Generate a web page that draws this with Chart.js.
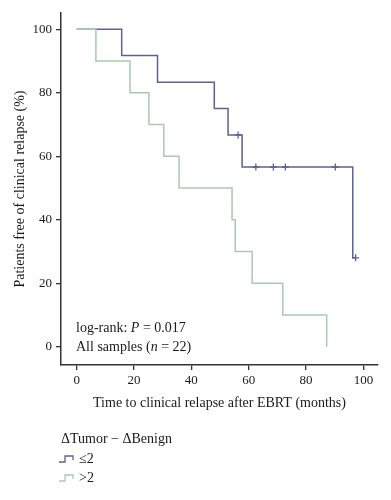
<!DOCTYPE html>
<html>
<head>
<meta charset="utf-8">
<script src="https://cdn.jsdelivr.net/npm/chart.js@4"></script>
<style>
  html, body { margin: 0; padding: 0; background: #fff; }
  #wrap { position: relative; width: 391px; height: 500px; }
  canvas { position: absolute; left: 0; top: 0; }
  .t { position: absolute; font-family: "Liberation Serif", "DejaVu Serif", serif; font-size: 14px; color: #1a1a1a; white-space: nowrap; line-height: 16px; }
  .leg svg { vertical-align: middle; margin-right: 3px; position: relative; top: -1px; }
</style>
</head>
<body>
<div id="wrap">
  <canvas id="c" width="391" height="500"></canvas>
  <div class="t" style="left:76px; top:320px;">log-rank: <i>P</i> = 0.017</div>
  <div class="t" style="left:76px; top:339px;">All samples (<i>n</i> = 22)</div>
  <div class="t" style="left:61px; top:431px;">ΔTumor − ΔBenign</div>
  <div class="t leg" style="left:58px; top:451px;"><svg width="18" height="10"><polyline points="1,8 7,8 7,2 15,2 15,6" fill="none" stroke="#5c6293" stroke-width="1.3"/></svg>≤2</div>
  <div class="t leg" style="left:58px; top:470px;"><svg width="18" height="10"><polyline points="1,8 7,8 7,2 15,2 15,6" fill="none" stroke="#a6cbae" stroke-width="1.3"/></svg>&gt;2</div>
</div>
<script>
// Group ≤2 (blue)
const lowTimes = [0, 15.7, 28.2, 48, 52.8, 57.7, 96.3, 97.3];
const lowSurv  = [100, 91.7, 83.3, 75, 66.7, 56.6, 28, 28];
const lowCensorTimes = [56.3, 62.5, 68.6, 72.8, 90.2, 97.3];
const lowCensorSurv  = [66.7, 56.6, 56.6, 56.6, 56.6, 28];
// Group >2 (green)
const highTimes = [0, 6.7, 18.6, 25.2, 30.4, 35.7, 54.2, 55.3, 61.2, 71.9, 87.2];
const highSurv  = [100, 90, 80, 70, 60, 50, 40, 30, 20, 10, 0];
// Tick labels
const xTicks = [0, 20, 40, 60, 80, 100];
const yTicks = [0, 20, 40, 60, 80, 100];

const blue = '#5c6293';
const green = '#a6cbae';
const axisColor = '#333';
const tickFont = { family: '"Liberation Serif", "DejaVu Serif", serif', size: 13 };
const titleFont = { family: '"Liberation Serif", "DejaVu Serif", serif', size: 14 };

const pts = (xs, ys) => xs.map((x, i) => ({ x: x, y: ys[i] }));

new Chart(document.getElementById('c'), {
  type: 'line',
  data: {
    datasets: [
      { data: pts(highTimes, highSurv), borderColor: green, borderWidth: 1.5, stepped: true, pointRadius: 0, fill: false },
      { data: pts(lowTimes, lowSurv), borderColor: blue, borderWidth: 1.5, stepped: true, pointRadius: 0, fill: false },
      { data: pts(lowCensorTimes, lowCensorSurv), showLine: false, pointStyle: 'cross', pointRadius: 3.5, borderColor: blue, borderWidth: 1.3, pointHoverRadius: 0 }
    ]
  },
  options: {
    responsive: false,
    animation: false,
    events: [],
    layout: { padding: { left: 0, top: 13, right: 13, bottom: 80 } },
    plugins: { legend: { display: false }, tooltip: { enabled: false } },
    scales: {
      x: {
        type: 'linear', min: -5.47, max: 105.1,
        afterBuildTicks: s => { s.ticks = xTicks.map(v => ({ value: v })); },
        afterFit: s => { s.height = 55; },
        grid: { display: true, drawOnChartArea: false, drawTicks: true, tickLength: 5, color: axisColor, lineWidth: 1.3 },
        border: { display: true, color: axisColor, width: 1.5 },
        ticks: { font: tickFont, color: '#1a1a1a', padding: 3, maxRotation: 0 },
        title: { display: true, text: 'Time to clinical relapse after EBRT (months)', font: titleFont, color: '#1a1a1a', padding: { top: 0, bottom: 8 } }
      },
      y: {
        type: 'linear', min: -5.76, max: 105.1,
        afterBuildTicks: s => { s.ticks = yTicks.map(v => ({ value: v })); },
        afterFit: s => { s.width = 61; },
        grid: { display: true, drawOnChartArea: false, drawTicks: true, tickLength: 5, color: axisColor, lineWidth: 1.3 },
        border: { display: true, color: axisColor, width: 1.5 },
        ticks: { font: tickFont, color: '#1a1a1a', padding: 4 },
        title: { display: true, text: 'Patients free of clinical relapse (%)', font: titleFont, color: '#1a1a1a', padding: { top: 12, bottom: 0 } }
      }
    }
  }
});
</script>
</body>
</html>
